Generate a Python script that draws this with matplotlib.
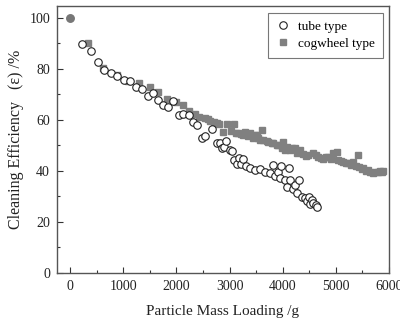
import matplotlib
matplotlib.use("Agg")
import matplotlib.pyplot as plt
from matplotlib.ticker import MultipleLocator

plt.rcParams['font.family'] = ['Liberation Serif', 'DejaVu Serif']

start_x = [0]
start_y = [100]

tube_x = [220, 389, 532, 645, 771, 889, 1015, 1128, 1235, 1348, 1461, 1555, 1649, 1748,
          1842, 1936, 2044, 2130, 2243, 2318, 2393, 2476, 2538, 2675, 2758, 2820, 2852,
          2895, 2933, 3008, 3040, 3083, 3134, 3183, 3215, 3258, 3309, 3384, 3478, 3572,
          3666, 3760, 3811, 3854, 3916, 3948, 3967, 4042, 4074, 4122, 4136, 4187, 4230,
          4273, 4311, 4356, 4418, 4450, 4499, 4512, 4544, 4574, 4625, 4649]
tube_y = [89.9, 87.1, 82.6, 79.5, 78.3, 77.1, 75.6, 75.4, 72.8, 72.3, 69.5, 70.6, 67.8, 66.0,
          65.0, 67.6, 62.0, 62.4, 62.0, 59.1, 58.0, 52.8, 53.5, 56.4, 51.1, 50.9, 48.9,
          49.4, 51.8, 48.1, 47.8, 44.3, 42.6, 45.0, 42.6, 44.6, 42.0, 41.1, 40.4, 40.7,
          39.7, 39.1, 42.4, 38.0, 39.7, 37.1, 42.0, 36.5, 33.6, 41.1, 36.5, 32.8, 34.5,
          31.5, 36.5, 29.9, 29.3, 28.0, 29.9, 27.1, 28.6, 27.6, 26.7, 25.8]

cog_x = [344, 626, 878, 1090, 1292, 1498, 1660, 1818, 1987, 2119, 2243, 2350, 2425, 2538,
         2590, 2632, 2713, 2760, 2807, 2882, 2946, 3021, 3083, 3130, 3164, 3210, 3258,
         3300, 3352, 3384, 3446, 3478, 3510, 3541, 3572, 3604, 3635, 3698, 3729, 3792,
         3823, 3886, 3916, 3979, 4010, 4042, 4074, 4136, 4170, 4230, 4261, 4324, 4386,
         4430, 4480, 4574, 4620, 4668, 4715, 4762, 4810, 4856, 4900, 4950, 5014, 5044,
         5090, 5138, 5185, 5232, 5280, 5326, 5370, 5420, 5440, 5484, 5514, 5560, 5608,
         5650, 5702, 5750, 5796, 5830, 5860, 5890]
cog_y = [90.1, 80.5, 77.6, 75.2, 74.4, 72.8, 70.9, 68.2, 67.2, 65.8, 63.6, 62.4, 61.3, 60.7,
         60.2, 59.7, 59.3, 58.8, 58.4, 55.4, 58.3, 55.7, 58.3, 55.0, 54.8, 54.5, 54.1,
         55.2, 53.5, 54.8, 52.8, 54.1, 54.1, 52.8, 52.2, 56.1, 52.2, 51.9, 51.5, 51.1,
         50.9, 50.2, 50.2, 48.9, 51.5, 48.2, 49.5, 48.2, 48.9, 48.9, 46.9, 48.2, 46.5,
         46.0, 46.3, 47.0, 46.3, 45.6, 45.0, 44.5, 45.3, 45.6, 44.5, 46.9, 47.6, 44.3,
         43.8, 43.6, 43.2, 43.0, 42.4, 43.6, 42.0, 46.3, 41.7, 40.8, 41.1, 40.1, 40.4,
         39.6, 39.1, 39.5, 39.7, 40.0, 39.4, 39.8]

x_ticks = [0, 1000, 2000, 3000, 4000, 5000, 6000]
y_ticks = [0, 20, 40, 60, 80, 100]

fig = plt.figure(figsize=(4.0, 3.28), dpi=100)
ax = fig.add_axes([0.1425, 0.168, 0.83, 0.814])

gray = '#808080'
ax.plot(cog_x, cog_y, linestyle='none', marker='s', markersize=4.5,
        markerfacecolor=gray, markeredgecolor=gray, label='cogwheel type', zorder=2)
ax.plot(tube_x, tube_y, linestyle='none', marker='o', markersize=5.4,
        markerfacecolor='white', markeredgecolor='#222222', markeredgewidth=0.8,
        label='tube type', zorder=3)
ax.plot(start_x, start_y, linestyle='none', marker='o', markersize=5.4,
        markerfacecolor='#777777', markeredgecolor='#777777', zorder=4)

ax.set_xlim(-245, 6000)
ax.set_ylim(0, 104.7)
ax.set_xticks(x_ticks)
ax.set_yticks(y_ticks)
ax.xaxis.set_minor_locator(MultipleLocator(500))
ax.yaxis.set_minor_locator(MultipleLocator(10))
ax.tick_params(which='both', direction='in', colors='#333333', labelsize=10,
               top=False, right=False)
ax.tick_params(which='major', length=4, width=0.8, pad=5)
ax.tick_params(which='minor', length=2.5, width=0.8)
for lab in ax.get_xticklabels() + ax.get_yticklabels():
    lab.set_color('#222222')
for s in ax.spines.values():
    s.set_color('#555555')
    s.set_linewidth(1.0)

ax.set_xlabel('Particle Mass Loading /g', fontsize=11, color='#222222', labelpad=9)
ax.set_ylabel('Cleaning Efficiency   (\u03b5) /%', fontsize=11.5, color='#222222', labelpad=4)

handles, labels = ax.get_legend_handles_labels()
leg = ax.legend(handles[::-1], labels[::-1], loc='upper right',
                bbox_to_anchor=(0.982, 0.974), fontsize=9.5, frameon=True,
                fancybox=False, edgecolor='#555555', handletextpad=0.6,
                borderpad=0.6, labelspacing=0.35, handlelength=1.1,
                borderaxespad=0.0)
leg.get_frame().set_linewidth(0.8)

fig.savefig('out.png', dpi=100)
